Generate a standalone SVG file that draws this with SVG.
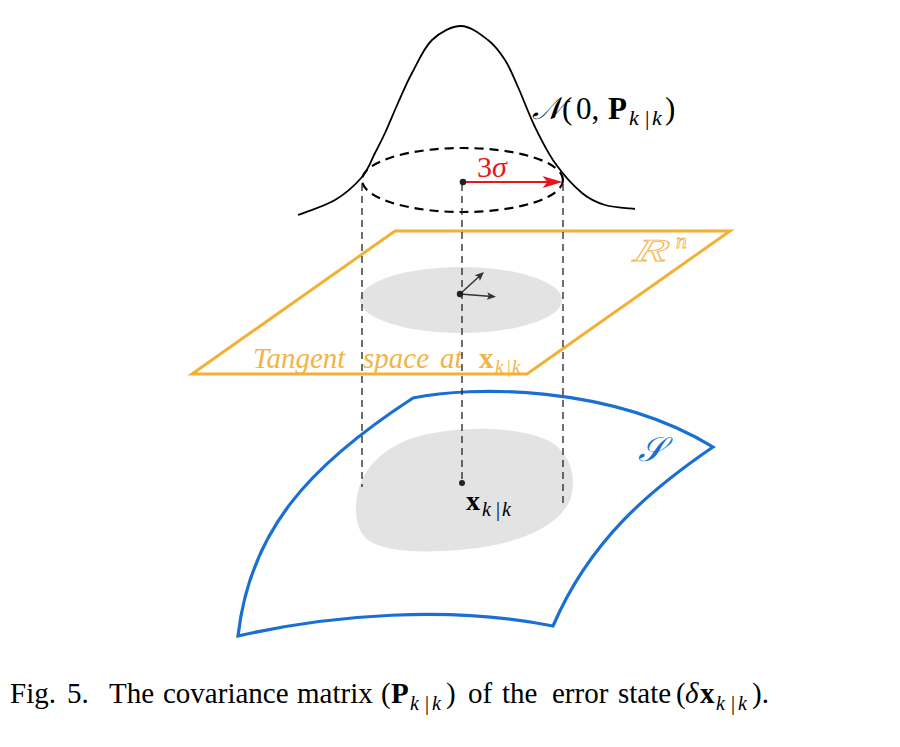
<svg xmlns="http://www.w3.org/2000/svg" width="900" height="747" viewBox="0 0 900 747">
<style>
  .math { font-family: "Liberation Serif", "DejaVu Serif", serif; }
  .it { font-style: italic; }
  .bf { font-weight: bold; }
  .plane { fill: none; stroke: #F4B034; stroke-width: 3; stroke-linejoin: miter; }
  .orange { fill: #F2B445; }
  .manifold { fill: none; stroke: #1A6FD3; stroke-width: 3.2; stroke-linejoin: miter; }
  .blob { fill: #E3E3E3; stroke: none; }
  .drop { fill: none; stroke: #222; stroke-width: 1.3; stroke-dasharray: 7 5; }
  .curve { fill: none; stroke: #000; stroke-width: 1.8; }
  .dot { fill: #222; }
  .cap { font-family: "Liberation Serif", serif; font-size: 29px; fill: #000; }
</style>
<defs>
  <marker id="ah-red" markerUnits="userSpaceOnUse" markerWidth="24" markerHeight="16" viewBox="-22 -8 24 16" refX="-12.5" refY="0" orient="auto">
    <path d="M0,0 L-20,-6 L-15,0 L-20,6 Z" fill="#E8161B"/>
  </marker>
  <marker id="ah-dark" markerUnits="userSpaceOnUse" markerWidth="12" markerHeight="10" viewBox="-10 -5 12 10" refX="-4" refY="0" orient="auto">
    <path d="M0,0 L-9,-3.8 L-7,0 L-9,3.8 Z" fill="#333"/>
  </marker>
</defs>
<rect width="900" height="747" fill="#fff"/>

<g id="tangent-plane">
  <polygon class="plane" points="395,231 730,231 527,374 192,374"/>
  <ellipse class="blob" cx="461" cy="300" rx="101" ry="33"/>
  <text class="math it" transform="translate(632,261) skewX(-18) scale(1.7,1)" font-size="32" fill="none" stroke="#F2B445" stroke-width="0.8">R</text>
  <text class="math it" x="676" y="248" font-size="22" fill="none" stroke="#F2B445" stroke-width="0.8">n</text>
  <text class="math orange" font-size="29" y="368"><tspan class="it" x="253">Tangent</tspan><tspan class="it" x="363">space</tspan><tspan class="it" x="440">at</tspan><tspan class="bf" x="479">x</tspan><tspan class="it" font-size="19" x="495" y="373">k</tspan><tspan font-size="19" x="507" y="373">|</tspan><tspan class="it" font-size="19" x="512" y="373">k</tspan></text>
</g>

<g id="manifold">
  <path class="manifold" d="M413,398 C470,386 610,384 713,447 C650,490 590,540 553,626 C450,605 330,615 238,636 C250,530 310,465 413,398 Z"/>
  <path class="blob" d="M356,508 C356,470 385,445 420,436 C455,427 510,425 545,439 C570,450 578,478 570,500 C560,525 520,545 460,550 C420,553 385,552 368,540 C358,532 356,520 356,508 Z"/>
  <text class="math it" x="638" y="461" font-size="34" fill="#1A6FD3">𝒮</text>
  <text class="math" font-size="28" y="510"><tspan class="bf" x="466">x</tspan><tspan class="it" font-size="20" x="482" y="516">k</tspan><tspan font-size="20" x="496" y="516">|</tspan><tspan class="it" font-size="20" x="502" y="516">k</tspan></text>
</g>

<g id="gaussian">
  <path class="curve" d="M298,215 C304.2,212.5 324.3,206.3 335,200 C345.7,193.7 355.3,184.8 362,177 C368.7,169.2 371.2,160.3 375,153 C378.8,145.7 381.2,141.3 385,133 C388.8,124.7 393.5,113 398,103 C402.5,93 406.3,83.5 412,73 C417.7,62.5 423.8,47.8 432,40 C440.2,32.2 451.7,26 461,26 C470.3,26 480.7,34.3 488,40 C495.3,45.7 500,52.2 505,60 C510,67.8 513,75.8 518,87 C523,98.2 528.8,114.3 535,127 C541.2,139.7 547.2,152 555,163 C562.8,174 573.7,186 582,193 C590.3,200 596.2,202.3 605,205 C613.8,207.7 630,208.3 635,209"/>
  <ellipse cx="462.5" cy="180" rx="100.5" ry="32" fill="none" stroke="#000" stroke-width="2.2" stroke-dasharray="9 6"/>
  <text class="math" x="532" y="119" font-size="31"><tspan class="it">𝒩</tspan></text>
  <text class="math" font-size="31" y="119"><tspan x="562">(</tspan><tspan x="576">0,</tspan><tspan class="bf" x="608">P</tspan><tspan class="it" font-size="22" x="629" y="125">k</tspan><tspan font-size="22" x="645" y="125">|</tspan><tspan class="it" font-size="22" x="652" y="125">k</tspan><tspan x="665" y="119">)</tspan></text>
  <text class="math" font-size="30" y="177" fill="#E8161B"><tspan x="477">3</tspan><tspan class="it">σ</tspan></text>
</g>

<g id="connectors">
  <line class="drop" x1="362" y1="184" x2="362" y2="487"/>
  <line class="drop" x1="462" y1="184" x2="462" y2="483"/>
  <line class="drop" x1="563" y1="184" x2="563" y2="508"/>
  <line x1="463" y1="182" x2="550" y2="182" stroke="#E8161B" stroke-width="2.2" marker-end="url(#ah-red)"/>
  <line x1="460" y1="294" x2="481" y2="274.7" stroke="#333" stroke-width="1.5" marker-end="url(#ah-dark)"/>
  <line x1="460" y1="294" x2="492" y2="296.4" stroke="#333" stroke-width="1.5" marker-end="url(#ah-dark)"/>
  <circle class="dot" cx="463" cy="182" r="3.3"/>
  <circle class="dot" cx="460" cy="294" r="3.2"/>
  <circle class="dot" cx="462" cy="483" r="3"/>
</g>

<g id="caption">
  <text class="cap" y="703"><tspan x="10">Fig.</tspan><tspan x="67">5.</tspan><tspan x="109">The</tspan><tspan x="163">covariance</tspan><tspan x="297">matrix</tspan><tspan x="381">(</tspan><tspan class="bf" x="391">P</tspan><tspan class="it" font-size="20" x="410" y="710">k</tspan><tspan font-size="20" x="425" y="710">|</tspan><tspan class="it" font-size="20" x="432" y="710">k</tspan><tspan x="446" y="703">)</tspan><tspan x="468">of</tspan><tspan x="502">the</tspan><tspan x="552">error</tspan><tspan x="618">state</tspan><tspan x="676">(</tspan><tspan class="it" x="685">δ</tspan><tspan class="bf" x="700">x</tspan><tspan class="it" font-size="20" x="716" y="710">k</tspan><tspan font-size="20" x="731" y="710">|</tspan><tspan class="it" font-size="20" x="738" y="710">k</tspan><tspan x="752" y="703">).</tspan></text>
</g>
</svg>
